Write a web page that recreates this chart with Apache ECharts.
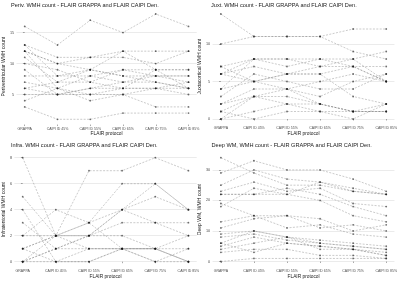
<!DOCTYPE html>
<html>
<head>
<meta charset="utf-8">
<script src="https://cdn.jsdelivr.net/npm/echarts@6/dist/echarts.min.js"></script>
<style>
html,body{margin:0;padding:0;background:#fff;}
#chart{width:400px;height:281px;}
</style>
</head>
<body>
<div id="chart"></div>
<script>
var protocols = ['GRAPPA', 'CAIPI ID 45%', 'CAIPI ID 55%', 'CAIPI ID 65%', 'CAIPI ID 75%', 'CAIPI ID 85%'];

// one row = one subject, values per protocol
var perivCounts = [
	[16, 13, 17, 15, 18, 16],
	[13, 11, 11, 12, 12, 12],
	[12, 10, 11, 11, 10, 12],
	[12, 6, 8, 9, 9, 9],
	[11, 7, 9, 8, 8, 8],
	[10, 9, 7, 9, 8, 7],
	[9, 5, 6, 7, 7, 6],
	[8, 8, 9, 8, 7, 6],
	[7, 6, 5, 6, 6, 6],
	[6, 5, 6, 6, 9, 6],
	[6, 7, 7, 6, 6, 7],
	[5, 5, 5, 5, 6, 5],
	[4, 6, 4, 5, 3, 3],
	[3, 1, 1, 2, 2, 2],
	[13, 8, 8, 7, 8, 8],
	[12, 10, 9, 12, 9, 9]
];
var perivTicks = [5, 10, 15];

var juxtCounts = [
	[14, 11, 11, 11, 12, 12],
	[10, 11, 11, 11, 9, 8],
	[7, 8, 8, 8, 8, 9],
	[6, 8, 7, 8, 7, 5],
	[6, 7, 6, 6, 7, 5],
	[4, 8, 8, 7, 8, 5],
	[3, 6, 5, 4, 4, 6],
	[2, 3, 3, 2, 1, 1],
	[1, 0, 1, 1, 0, 2],
	[0, 1, 2, 2, 1, 1],
	[4, 5, 6, 6, 3, 2],
	[2, 4, 4, 5, 6, 5],
	[0, 3, 4, 3, 5, 6],
	[7, 5, 6, 7, 7, 7],
	[6, 5, 4, 2, 1, 2],
	[1, 3, 2, 1, 1, 1]
];
var juxtTicks = [0, 5, 10];

var infraCounts = [
	[8, 2, 2, 4, 5, 4],
	[0, 2, 7, 7, 8, 7],
	[5, 2, 3, 6, 6, 4],
	[4, 0, 1, 1, 1, 1],
	[3, 1, 2, 2, 1, 0],
	[2, 4, 3, 1, 0, 0],
	[1, 2, 2, 3, 3, 2],
	[1, 0, 0, 1, 1, 0],
	[0, 1, 2, 4, 3, 3],
	[0, 1, 1, 1, 0, 1],
	[2, 2, 1, 1, 1, 2],
	[1, 2, 3, 4, 6, 4],
	[0, 0, 0, 1, 1, 0]
];
var infraTicks = [0, 2, 4, 6, 8];

var deepCounts = [
	[29, 33, 30, 30, 27, 23],
	[34, 29, 25, 25, 23, 22],
	[25, 30, 27, 26, 24, 22],
	[23, 26, 23, 24, 19, 18],
	[22, 22, 24, 22, 18, 15],
	[18, 24, 22, 20, 15, 13],
	[19, 15, 15, 14, 10, 12],
	[13, 15, 11, 12, 9, 8],
	[11, 14, 15, 11, 12, 10],
	[9, 10, 8, 7, 6, 5],
	[8, 9, 7, 6, 5, 4],
	[6, 10, 8, 6, 5, 4],
	[5, 8, 6, 5, 4, 3],
	[4, 6, 8, 4, 4, 2],
	[3, 4, 4, 2, 2, 1],
	[0, 1, 1, 1, 1, 1],
	[6, 3, 6, 5, 4, 2],
	[22, 22, 22, 26, 23, 22]
];
var deepTicks = [0, 10, 20, 30];

var panels = [
	{ title: 'Periv. WMH count - FLAIR GRAPPA and FLAIR CAIPI Den.', yName: 'Periventricular WMH count', rows: perivCounts, ticks: perivTicks,
		left: 13, top: 8.75, width: 183.7, height: 115.8, titleLeft: 11, titleTop: 2 },
	{ title: 'Juxt. WMH count - FLAIR GRAPPA and FLAIR CAIPI Den.', yName: 'Juxtacortical WMH count', rows: juxtCounts, ticks: juxtTicks,
		left: 212.6, top: 8.75, width: 184.8, height: 115.5, titleLeft: 211, titleTop: 2 },
	{ title: 'Infra. WMH count - FLAIR GRAPPA and FLAIR CAIPI Den.', yName: 'Infratentorial WMH count', rows: infraCounts, ticks: infraTicks,
		left: 13, top: 152.5, width: 183.7, height: 114.4, titleLeft: 11, titleTop: 142.8 },
	{ title: 'Deep WM, WMH count - FLAIR GRAPPA and FLAIR CAIPI Den.', yName: 'Deep WM, WMH count', rows: deepCounts, ticks: deepTicks,
		left: 212.6, top: 152.5, width: 184.8, height: 114.2, titleLeft: 211.5, titleTop: 142.8 }
];

var FONT = 'Liberation Sans, Arial, sans-serif';
var myChart = echarts.init(document.getElementById('chart'), null, { renderer: 'canvas' });

var titles = [], grids = [], xAxes = [], yAxes = [], series = [];
panels.forEach(function (p, k) {
	// ggplot 式 5% 扩展
	var all = [].concat.apply([], p.rows);
	var lo = Math.min.apply(null, all), hi = Math.max.apply(null, all);
	var pad = (hi - lo) * 0.05;

	titles.push({
		text: p.title, left: p.titleLeft, top: p.titleTop, padding: 0,
		textStyle: { fontSize: 5.6, fontWeight: 'normal', color: '#1a1a1a', fontFamily: FONT }
	});
	grids.push({ left: p.left, top: p.top, width: p.width, height: p.height, containLabel: false });
	xAxes.push({
		type: 'value', gridIndex: k, min: -0.25, max: 5.25,
		name: 'FLAIR protocol', nameLocation: 'middle', nameGap: 6.5,
		nameTextStyle: { fontSize: 4.8, color: '#1a1a1a', fontFamily: FONT },
		axisLine: { show: false },
		axisTick: { show: true, length: 1.5, customValues: [0, 1, 2, 3, 4, 5], lineStyle: { color: '#555', width: 0.5 } },
		axisLabel: {
			customValues: [0, 1, 2, 3, 4, 5], margin: 2.2, fontSize: 3.5, color: '#4d4d4d', fontFamily: FONT,
			formatter: function (v) { return protocols[Math.round(v)]; }
		},
		splitLine: { show: false }
	});
	yAxes.push({
		type: 'value', gridIndex: k, min: lo - pad, max: hi + pad,
		name: p.yName, nameLocation: 'middle', nameRotate: 90, nameGap: 7,
		nameTextStyle: { fontSize: 5, color: '#1a1a1a', fontFamily: FONT },
		axisLine: { show: false },
		axisTick: { show: true, length: 1.8, customValues: p.ticks, lineStyle: { color: '#555', width: 0.5 } },
		axisLabel: { customValues: p.ticks, margin: 2.4, fontSize: 3.8, color: '#4d4d4d', fontFamily: FONT },
		splitLine: { show: true, lineStyle: { color: '#e3e3e3', width: 0.7 } }
	});
	p.rows.forEach(function (row) {
		series.push({
			type: 'line', xAxisIndex: k, yAxisIndex: k,
			data: row.map(function (v, i) { return [i, v]; }),
			symbol: 'circle', symbolSize: 1.8, showSymbol: true,
			lineStyle: { type: [2, 1.4], width: 0.6, color: 'rgba(110,110,110,0.6)' },
			itemStyle: { color: 'rgba(20,20,20,0.6)' },
			silent: true, animation: false
		});
	});
});

myChart.setOption({
	backgroundColor: '#fff',
	animation: false,
	title: titles,
	grid: grids,
	xAxis: xAxes,
	yAxis: yAxes,
	series: series
});
</script>
</body>
</html>
